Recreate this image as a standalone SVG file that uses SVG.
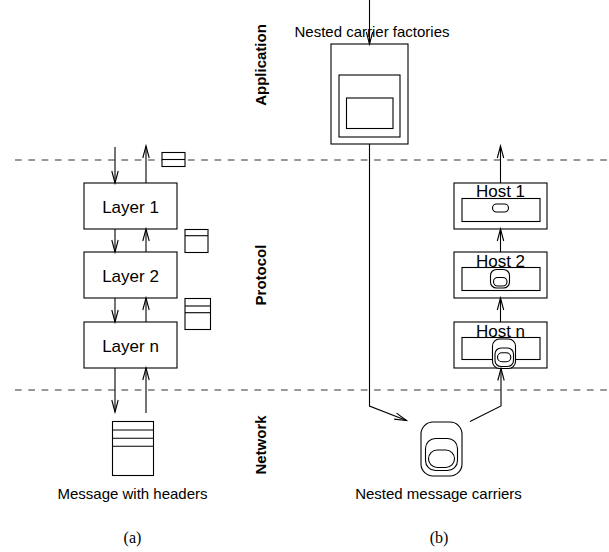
<svg xmlns="http://www.w3.org/2000/svg" width="609" height="552" viewBox="0 0 609 552">
<style>
.b{fill:#fff;stroke:#000;stroke-width:1.1}
.n{fill:none;stroke:#000;stroke-width:1.1}
.c{fill:none;stroke:#000;stroke-width:1.1;marker-end:url(#ah)}
.d{fill:none;stroke:#777;stroke-width:1.3;stroke-dasharray:6.7 6.6}
.t{font-family:"Liberation Sans",Arial,sans-serif;fill:#000;text-anchor:middle}
.L{font-size:17px}
.s{font-size:15px}
.v{font-size:15px;font-weight:bold}
.p{font-family:"Liberation Serif","Times New Roman",serif;font-size:16px;text-anchor:middle}
</style>
<defs>
<marker id="ah" markerUnits="userSpaceOnUse" markerWidth="14" markerHeight="10" refX="12" refY="4" orient="auto" overflow="visible">
<path d="M0,0.8 L12,4 L0,7.2" fill="none" stroke="#000" stroke-width="1.1"/>
</marker>
</defs>
<rect width="609" height="552" fill="#fff"/>
<g id="separators">
<line class="d" x1="15" y1="160" x2="609" y2="160"/>
<line class="d" x1="15" y1="390" x2="609" y2="390"/>
</g>
<g id="labels">
<text class="t v" transform="translate(266,65) rotate(-90)">Application</text>
<text class="t v" transform="translate(266,275) rotate(-90)">Protocol</text>
<text class="t v" transform="translate(266,445) rotate(-90)">Network</text>
</g>
<g id="layer1"><rect class="b" x="84" y="183" width="93" height="46"/><text class="t L" x="130.5" y="213">Layer 1</text></g>
<g id="layer2"><rect class="b" x="84" y="252" width="93" height="46"/><text class="t L" x="130.5" y="282">Layer 2</text></g>
<g id="layern"><rect class="b" x="84" y="322" width="93" height="46"/><text class="t L" x="130.5" y="352">Layer n</text></g>
<g id="hdr0"><rect class="b" x="162" y="152.5" width="23" height="14"/><line class="n" x1="162" y1="159.5" x2="185" y2="159.5"/></g>
<g id="hdr1"><rect class="b" x="185" y="229.5" width="23" height="23"/><line class="n" x1="185" y1="235.7" x2="208" y2="235.7"/></g>
<g id="hdr2"><rect class="b" x="185" y="298.5" width="25.5" height="31"/><line class="n" x1="185" y1="306" x2="210.5" y2="306"/><line class="n" x1="185" y1="312.7" x2="210.5" y2="312.7"/></g>
<g id="message"><rect class="b" x="112.5" y="421.5" width="41" height="54"/><line class="n" x1="112.5" y1="430" x2="153.5" y2="430"/><line class="n" x1="112.5" y1="438.3" x2="153.5" y2="438.3"/><line class="n" x1="112.5" y1="446.3" x2="153.5" y2="446.3"/><text class="t s" x="132.5" y="499">Message with headers</text></g>
<g id="factory"><text class="t s" x="372" y="37">Nested carrier factories</text><rect class="b" x="331" y="44" width="77" height="100"/><rect class="n" x="339" y="75" width="61" height="62"/><rect class="n" x="346.5" y="98" width="46.5" height="30.5"/></g>
<g id="host1"><rect class="b" x="454" y="183" width="93" height="46"/><rect class="n" x="462" y="198.5" width="78" height="23"/><text class="t L" x="500.5" y="197">Host 1</text><rect class="n" x="492.5" y="204" width="16" height="8" rx="4"/></g>
<g id="host2"><rect class="b" x="454" y="252" width="93" height="46"/><rect class="n" x="462" y="267.5" width="78" height="23"/><text class="t L" x="500.5" y="267">Host 2</text><rect class="b" x="490.5" y="269.5" width="19" height="18.5" rx="6"/><rect class="n" x="493.5" y="277.5" width="13.5" height="8.5" rx="4.2"/></g>
<g id="hostn"><rect class="b" x="454" y="322" width="93" height="46"/><rect class="n" x="462" y="337.5" width="78" height="22"/><text class="t L" x="500.5" y="337">Host n</text><rect class="b" x="492.5" y="339" width="23" height="29.5" rx="7"/><rect class="n" x="495" y="348" width="18.5" height="18.5" rx="6"/><rect class="n" x="497.5" y="352.8" width="13.3" height="9" rx="4.5"/></g>
<g id="carrier"><rect class="b" x="421" y="422" width="41" height="54" rx="12"/><rect class="n" x="425.5" y="438.5" width="32" height="32" rx="10"/><rect class="n" x="428.5" y="450" width="26" height="17.5" rx="8.7"/><text class="t s" x="438.5" y="499">Nested message carriers</text></g>
<g id="connectors">
<line class="c" x1="115" y1="147" x2="115" y2="183"/>
<line class="c" x1="146" y1="183" x2="146" y2="146"/>
<line class="c" x1="115" y1="229" x2="115" y2="252"/>
<line class="c" x1="146" y1="252" x2="146" y2="229"/>
<line class="c" x1="115" y1="298" x2="115" y2="322"/>
<line class="c" x1="146" y1="322" x2="146" y2="298"/>
<line class="c" x1="115" y1="368" x2="115" y2="412"/>
<line class="c" x1="146" y1="413" x2="146" y2="368"/>
<line class="c" x1="369.5" y1="0" x2="369.5" y2="44"/>
<polyline class="c" points="369.5,144 369.5,406 406.5,420.5"/>
<polyline class="c" points="470,421.5 501,406 501,368.5"/>
<line class="c" x1="500.5" y1="322" x2="500.5" y2="298"/>
<line class="c" x1="500.5" y1="252" x2="500.5" y2="229"/>
<line class="c" x1="500.5" y1="183" x2="500.5" y2="146"/>
</g>
<g id="captions">
<text class="p" x="132.5" y="543">(a)</text>
<text class="p" x="439" y="543">(b)</text>
</g>
</svg>
